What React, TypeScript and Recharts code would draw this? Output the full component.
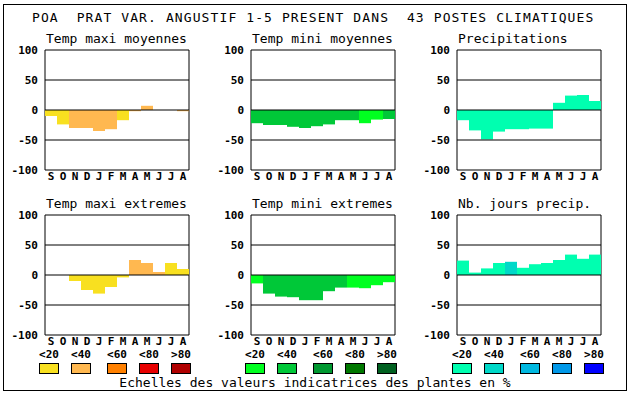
import { BarChart, Bar, Cell, XAxis, YAxis, ReferenceLine, ReferenceArea } from 'recharts';

const MONTHS = ['S', 'O', 'N', 'D', 'J', 'F', 'M', 'A', 'M', 'J', 'J', 'A'];
const Y_TICKS = [-100, -50, 0, 50, 100];
const CLASS_LABELS = ['<20', '<40', '<60', '<80', '>80'];

// colour scales (class of indicator value)
const WARM = ['#f8e020', '#ffb850', '#ff8000', '#e80000', '#b00000'];
const GREEN = ['#00ff20', '#00c838', '#009830', '#007800', '#006020'];
const BLUE = ['#00ffb0', '#00d8c8', '#00b8e0', '#0098e8', '#0000ff'];

// values per month, S..A
const maxiMoyValues = [-10, -24, -30, -30, -35, -32, -17, -2, 7, 0, 0, -2];
const maxiMoyClass = [0, 0, 1, 1, 1, 1, 0, 1, 1, 0, 0, 1];
const miniMoyValues = [-22, -25, -25, -28, -30, -27, -24, -17, -17, -22, -16, -15];
const miniMoyClass = [1, 1, 1, 1, 1, 1, 1, 1, 1, 0, 0, 1];
const precipValues = [-17, -34, -49, -36, -32, -32, -31, -31, 12, 24, 25, 15];
const precipClass = [0, 0, 0, 0, 0, 0, 0, 0, 0, 0, 0, 0];
const maxiExtValues = [0, 0, -10, -25, -31, -20, -4, 25, 20, 5, 20, 10];
const maxiExtClass = [0, 0, 0, 0, 0, 0, 0, 1, 1, 1, 0, 0];
const miniExtValues = [-14, -31, -36, -37, -42, -42, -27, -21, -21, -22, -17, -12];
const miniExtClass = [0, 1, 1, 1, 1, 1, 1, 1, 0, 0, 0, 0];
const joursValues = [24, 4, 11, 20, 22, 12, 18, 20, 25, 34, 27, 34];
const joursClass = [0, 0, 0, 0, 1, 0, 0, 0, 0, 0, 0, 0];

const MONO = '"DejaVu Sans Mono", monospace';

interface PanelProps {
  title: string;
  values: number[];
  classes: number[];
  palette: string[];
  left: number; // plot area left
  top: number; // plot area top
}

function Panel({ title, values, classes, palette, left, top }: PanelProps) {
  const data = MONTHS.map((m, i) => ({ m, v: values[i], c: classes[i] }));
  return (
    <>
      <div
        style={{
          position: 'absolute',
          left: left + 1,
          top: top - 18,
          fontFamily: MONO,
          fontSize: 13,
          whiteSpace: 'pre',
          lineHeight: '13px',
        }}
      >
        {title}
      </div>
      <div style={{ position: 'absolute', left: left - 45, top: top - 10 }}>
        <BarChart
          width={199}
          height={150}
          data={data}
          margin={{ top: 10, right: 10, bottom: 0, left: 0 }}
          barCategoryGap={0}
          barGap={0}
        >
          <XAxis
            dataKey="m"
            height={20}
            axisLine={false}
            tickLine={false}
            tickSize={0}
            tickMargin={2}
            interval={0}
            tick={{ fontSize: 11, fontWeight: 'bold', fill: '#000', fontFamily: MONO }}
          />
          <YAxis
            width={45}
            domain={[-100, 100]}
            ticks={Y_TICKS}
            axisLine={false}
            tickLine={false}
            tickSize={0}
            tickMargin={7}
            tick={{ fontSize: 11, fontWeight: 'bold', fill: '#000', fontFamily: MONO }}
          />
          <Bar dataKey="v" isAnimationActive={false}>
            {data.map((d, i) => (
              <Cell key={i} fill={palette[d.c]} />
            ))}
          </Bar>
          <ReferenceLine y={50} stroke="#000" />
          <ReferenceLine y={0} stroke="#000" />
          <ReferenceLine y={-50} stroke="#000" />
          <ReferenceArea y1={-100} y2={100} fill="none" fillOpacity={0} stroke="#000" strokeOpacity={1} />
        </BarChart>
      </div>
    </>
  );
}

function ScaleLegend({ palette, left }: { palette: string[]; left: number }) {
  const offsets = [0, 32, 68, 100, 132];
  return (
    <>
      {palette.map((col, i) => (
        <div key={i}>
          <div
            style={{
              position: 'absolute',
              left: left + offsets[i] - 6,
              top: 350,
              width: 32,
              textAlign: 'center',
              fontFamily: MONO,
              fontSize: 11,
              fontWeight: 'bold',
              lineHeight: '10px',
            }}
          >
            {CLASS_LABELS[i]}
          </div>
          <div
            style={{
              position: 'absolute',
              left: left + offsets[i],
              top: 363,
              width: 18,
              height: 9,
              background: col,
              border: '1px solid #000',
            }}
          />
        </div>
      ))}
    </>
  );
}

export default function App() {
  return (
    <div
      style={{
        position: 'absolute',
        left: 0,
        top: 0,
        width: 630,
        height: 394,
        background: '#fff',
        overflow: 'hidden',
      }}
    >
      <div
        style={{
          position: 'absolute',
          left: 3,
          top: 4,
          width: 622,
          height: 385,
          border: '1px solid #000',
        }}
      />
      <div
        style={{
          position: 'absolute',
          left: 32,
          top: 10,
          fontFamily: MONO,
          fontSize: 13,
          letterSpacing: 1.1,
          whiteSpace: 'pre',
          lineHeight: '15px',
        }}
      >
        POA  PRAT VAR. ANGUSTIF 1-5 PRESENT DANS  43 POSTES CLIMATIQUES
      </div>

      <Panel title="Temp maxi moyennes" values={maxiMoyValues} classes={maxiMoyClass} palette={WARM} left={45} top={50} />
      <Panel title="Temp mini moyennes" values={miniMoyValues} classes={miniMoyClass} palette={GREEN} left={251} top={50} />
      <Panel title="Precipitations" values={precipValues} classes={precipClass} palette={BLUE} left={457} top={50} />
      <Panel title="Temp maxi extremes" values={maxiExtValues} classes={maxiExtClass} palette={WARM} left={45} top={215} />
      <Panel title="Temp mini extremes" values={miniExtValues} classes={miniExtClass} palette={GREEN} left={251} top={215} />
      <Panel title="Nb. jours precip." values={joursValues} classes={joursClass} palette={BLUE} left={457} top={215} />

      <ScaleLegend palette={WARM} left={39} />
      <ScaleLegend palette={GREEN} left={245} />
      <ScaleLegend palette={BLUE} left={452} />

      <div
        style={{
          position: 'absolute',
          left: 0,
          width: 630,
          top: 376,
          textAlign: 'center',
          fontFamily: MONO,
          fontSize: 13,
          lineHeight: '14px',
          whiteSpace: 'pre',
        }}
      >
        Echelles des valeurs indicatrices des plantes en %
      </div>
    </div>
  );
}
